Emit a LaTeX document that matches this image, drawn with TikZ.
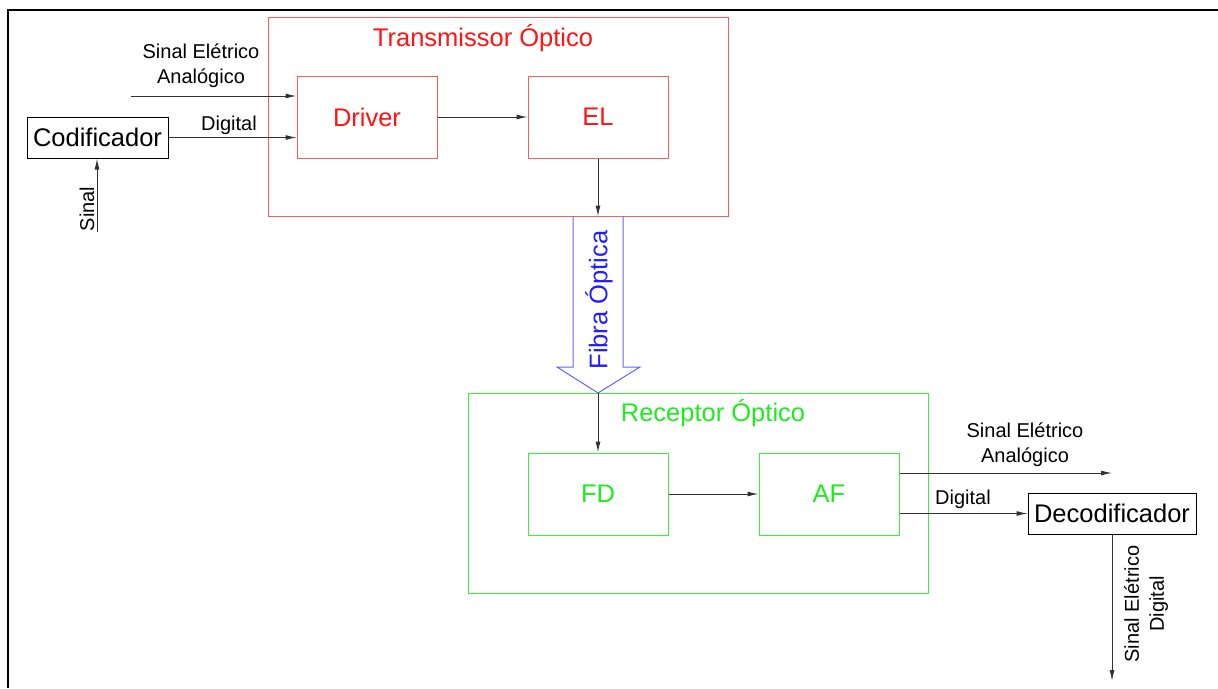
\documentclass[tikz,border=0pt]{standalone}
\usepackage{fontspec}
\setmainfont{Liberation Sans}
\usetikzlibrary{arrows.meta}
\definecolor{tred}{RGB}{255,20,20}
\definecolor{tredline}{RGB}{255,90,90}
\definecolor{rgreen}{RGB}{30,235,30}
\definecolor{rgreenline}{RGB}{60,240,60}
\definecolor{fblue}{RGB}{30,30,255}
\definecolor{fblueline}{RGB}{100,100,255}
\tikzset{
  big/.style={font=\fontsize{25.5}{30}\selectfont},
  lbl/.style={font=\fontsize{20}{25}\selectfont, align=center, inner sep=0},
  blk/.style={draw, rectangle, inner sep=0, line width=1pt},
  arr/.style={draw=black!80, line width=1pt, -{Latex[length=11pt,width=5pt]}},
}
\begin{document}
\begin{tikzpicture}[x=1pt,y=-1pt]
\useasboundingbox (0,0) rectangle (1218,688);
% frame
\draw[line width=1.3pt] (8,688) -- (8,10) -- (1218,10);
% transmitter
\node[blk, draw=tredline, minimum width=460pt, minimum height=199pt] (tx) at (498,116.5) {};
\node[big, text=tred] (txl) at (483,38) {Transmissor Óptico};
\node[blk, draw=tredline, big, text=tred, minimum width=140pt, minimum height=82pt] (drv) at (367,117) {Driver};
\node[blk, draw=tredline, big, text=tred, minimum width=140pt, minimum height=82pt] (el) at (598,117) {EL};
% encoder
\node[blk, big, minimum width=141pt, minimum height=41pt] (cod) at (97.5,137.5) {Codificador};
\coordinate (ain) at (131,96);
\coordinate (sin) at (97,232);
\draw[arr] (ain) -- (ain -| drv.west);
\draw[arr] (cod.east) -- (cod.east -| drv.west);
\draw[arr] (sin) -- (cod.south -| sin);
\node[lbl] (la1) at (201,66) {Sinal Elétrico\\Analógico};
\node[lbl] (ld1) at (229,125) {Digital};
\node[lbl, rotate=90] (ls1) at (87,209) {Sinal};
\draw[arr] (drv.east) -- (el.west);
\draw[arr] (el.south) -- (el.south |- tx.south);
% fibre
\draw[fblueline, line width=1pt] (573,216) -- (573,367) -- (557,367) -- (598,393) -- (640,367) -- (623,367) -- (623,216);
\node[big, text=fblue, rotate=90] (fib) at (599,300) {Fibra Óptica};
% receiver
\node[blk, draw=rgreenline, minimum width=460pt, minimum height=200pt] (rx) at (698,493) {};
\node[big, text=rgreen] (rxl) at (713,413) {Receptor Óptico};
\node[blk, draw=rgreenline, big, text=rgreen, minimum width=140pt, minimum height=82pt] (fd) at (598,494) {FD};
\node[blk, draw=rgreenline, big, text=rgreen, minimum width=140pt, minimum height=82pt] (af) at (829,494) {AF};
\draw[arr] (fd.north |- rx.north) -- (fd.north);
\draw[arr] (fd.east) -- (af.east -| af.west);
% decoder
\node[blk, big, minimum width=168pt, minimum height=41pt] (dec) at (1112,513.5) {Decodificador};
\coordinate (aout) at (1112,473);
\coordinate (dout) at (1112,681);
\draw[arr] (aout -| af.east) -- (aout);
\draw[arr] (dec.west -| af.east) -- (dec.west);
\draw[arr] (dec.south) -- (dout);
\node[lbl] (la2) at (1025,445) {Sinal Elétrico\\Analógico};
\node[lbl] (ld2) at (963,499) {Digital};
\node[lbl, rotate=90] (ls2) at (1146,604) {Sinal Elétrico\\Digital};
\end{tikzpicture}
\end{document}
